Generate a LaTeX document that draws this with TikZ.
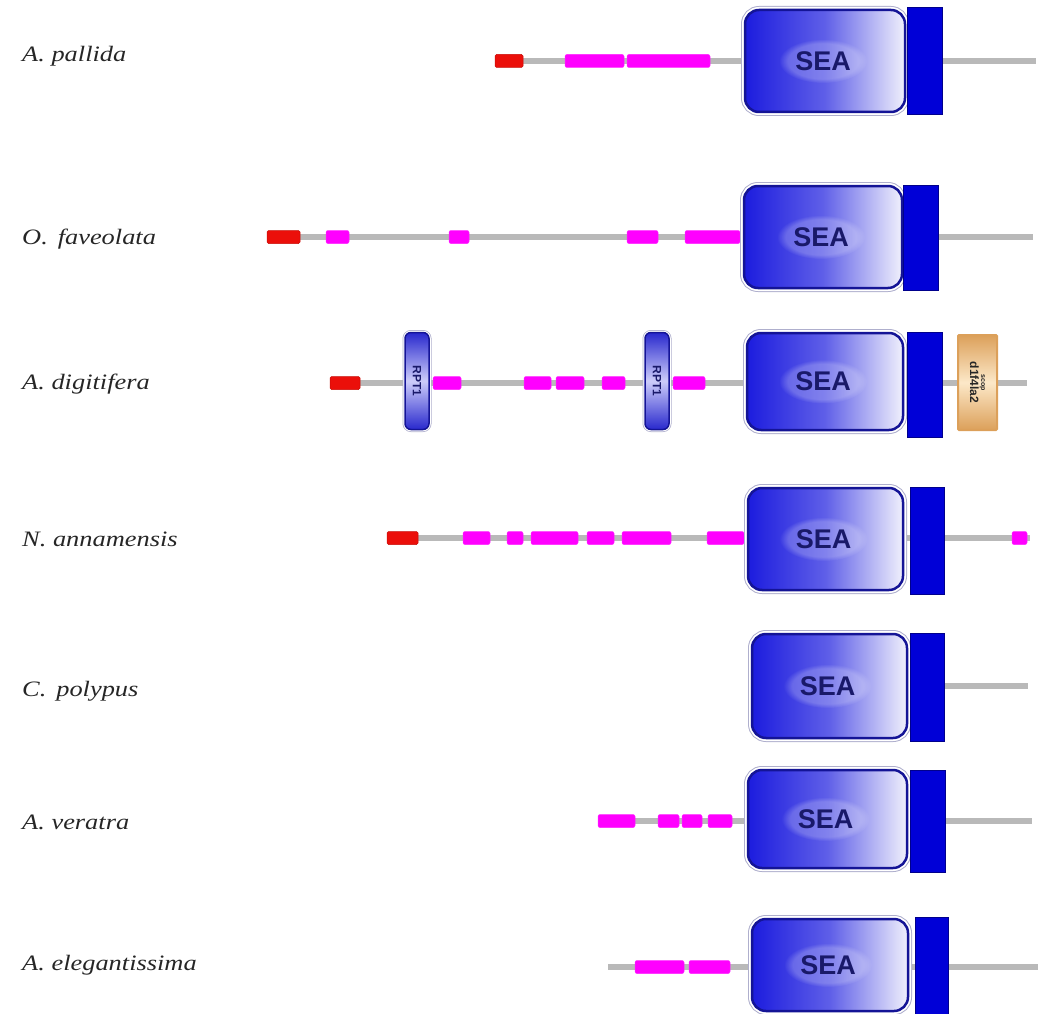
\documentclass[tikz,border=0pt]{standalone}
\usepackage{fontspec}
\setmainfont{Liberation Serif}
\setsansfont{Liberation Sans}
\newfontfamily\labfont[FakeStretch=1.2]{Liberation Serif}
\usetikzlibrary{fadings}
\definecolor{linegray}{RGB}{185,185,185}
\definecolor{domred}{RGB}{235,15,10}
\definecolor{dommag}{RGB}{255,0,255}
\definecolor{seaL}{RGB}{28,28,222}
\definecolor{seaM}{RGB}{95,95,232}
\definecolor{seaR}{RGB}{240,240,252}
\definecolor{seadark}{RGB}{20,20,150}
\definecolor{seaout}{RGB}{175,175,205}
\definecolor{tmblue}{RGB}{0,0,215}
\definecolor{tmdark}{RGB}{0,0,140}
\definecolor{seatext}{RGB}{25,25,105}
\definecolor{rptdark}{RGB}{40,40,205}
\definecolor{rptlight}{RGB}{205,205,250}
\definecolor{scopdark}{RGB}{220,160,90}
\definecolor{scoplight}{RGB}{252,232,200}
\tikzset{
  bb/.style={line width=6pt, draw=linegray},
  redbox/.style={fill=domred, draw=domred!85!black, line width=0.5pt, rounded corners=1.5pt, minimum height=13pt, inner sep=0pt},
  magbox/.style={fill=dommag, draw=dommag!85!white, line width=0.5pt, rounded corners=2pt, minimum height=13pt, inner sep=0pt},
  sea/.style={rounded corners=14pt, inner sep=0pt,
    preaction={draw=seaout, line width=8pt},
    preaction={draw=white, line width=6pt},
    left color=seaL, right color=seaR, middle color=seaM,
    draw=seadark, line width=2.5pt},
  glow/.style={fill=white, opacity=0.22, path fading=circle with fuzzy edge 20 percent},
  seatxt/.style={inner sep=0pt, font=\sffamily\bfseries\fontsize{27}{27}\selectfont, text=seatext},
  tmbox/.style={fill=tmblue, draw=tmdark, line width=1pt, inner sep=0pt},
  rpt/.style={rotate=-90, rounded corners=6pt, inner sep=0pt,
    preaction={draw=seaout, line width=5pt},
    preaction={draw=white, line width=3.5pt},
    top color=rptdark, bottom color=rptdark, middle color=rptlight,
    draw=seadark, line width=1.5pt, minimum width=97pt, minimum height=24pt,
    font=\sffamily\bfseries\fontsize{12}{12}\selectfont, text=seatext},
  scopbox/.style={rotate=-90, inner sep=0pt, rounded corners=1pt,
    top color=scopdark, bottom color=scopdark, middle color=scoplight,
    draw=scopdark, line width=2pt, minimum width=95pt, minimum height=39pt,
    align=center, text=black!85, font=\sffamily\bfseries},
  lab/.style={anchor=base west, inner sep=0pt, font=\labfont\itshape\fontsize{22}{24}\selectfont, text=black!85}
}
% SEA domain: box, soft halo, label
\newcommand\seadom[5]{% name, x, y, width, height
  \node[sea, minimum width=#4pt, minimum height=#5pt] (#1) at (#2,#3) {};
  \fill[glow] (#2-2,#3) ellipse [x radius=44, y radius=22];
  \node[seatxt] (#1t) at (#2-2,#3) {SEA};
}
\begin{document}
\begin{tikzpicture}[x=1pt,y=-1pt]
\useasboundingbox (0,0) rectangle (1039,1014);
% ---------- labels ----------
\node[lab] (t1) at (22,62) {A. pallida};
\node[lab] (t2) at (22,244) {O.\hspace{0.45em}faveolata};
\node[lab] (t3) at (22,389) {A. digitifera};
\node[lab] (t4) at (22,546) {N. annamensis};
\node[lab] (t5) at (22,696) {C.\hspace{0.45em}polypus};
\node[lab] (t6) at (22,829) {A. veratra};
\node[lab] (t7) at (22,970) {A. elegantissima};
% ---------- row 1 ----------
\coordinate (a1) at (495,61); \coordinate (b1) at (1036,61);
\draw[bb] (a1) -- (b1);
\node[redbox, minimum width=28pt] (r1a) at (509,61) {};
\node[magbox, minimum width=59pt] (m1a) at (594.5,61) {};
\node[magbox, minimum width=83pt] (m1b) at (668.5,61) {};
\seadom{sea1}{825}{61}{160}{102}
\node[tmbox, minimum width=35pt, minimum height=107pt] (tm1) at (924.5,61.5) {};
% ---------- row 2 ----------
\coordinate (a2) at (267,237); \coordinate (b2) at (1033,237);
\draw[bb] (a2) -- (b2);
\node[redbox, minimum width=33pt] (r2a) at (283.5,237) {};
\node[magbox, minimum width=23pt] (m2a) at (337.5,237) {};
\node[magbox, minimum width=20pt] (m2b) at (459,237) {};
\node[magbox, minimum width=31pt] (m2c) at (642.5,237) {};
\node[magbox, minimum width=55pt] (m2d) at (712.5,237) {};
\seadom{sea2}{823}{237}{158}{102}
\node[tmbox, minimum width=35pt, minimum height=105pt] (tm2) at (920.5,237.5) {};
% ---------- row 3 ----------
\coordinate (a3) at (330,383); \coordinate (b3) at (1027,383);
\draw[bb] (a3) -- (b3);
\node[redbox, minimum width=30pt] (r3a) at (345,383) {};
\node[rpt] (p3a) at (417,381) {RPT1};
\node[magbox, minimum width=28pt] (m3a) at (447,383) {};
\node[magbox, minimum width=27pt] (m3b) at (537.5,383) {};
\node[magbox, minimum width=28pt] (m3c) at (570,383) {};
\node[magbox, minimum width=23pt] (m3d) at (613.5,383) {};
\node[rpt] (p3b) at (657,381) {RPT1};
\node[magbox, minimum width=32pt] (m3e) at (689,383) {};
\seadom{sea3}{825}{381.5}{156}{97}
\node[tmbox, minimum width=35pt, minimum height=105pt] (tm3) at (924.5,384.5) {};
\node[scopbox] (sc3) at (977.5,382.5) {{\fontsize{7}{8}\selectfont scop}\\[-1pt]{\fontsize{12}{13}\selectfont d1f4la2}};
% ---------- row 4 ----------
\coordinate (a4) at (387,538); \coordinate (b4) at (1030,538);
\draw[bb] (a4) -- (b4);
\node[redbox, minimum width=31pt] (r4a) at (402.5,538) {};
\node[magbox, minimum width=27pt] (m4a) at (476.5,538) {};
\node[magbox, minimum width=16pt] (m4b) at (515,538) {};
\node[magbox, minimum width=47pt] (m4c) at (554.5,538) {};
\node[magbox, minimum width=27pt] (m4d) at (600.5,538) {};
\node[magbox, minimum width=49pt] (m4e) at (646.5,538) {};
\node[magbox, minimum width=37pt] (m4f) at (725.5,538) {};
\seadom{sea4}{825.5}{539}{155}{102}
\node[tmbox, minimum width=34pt, minimum height=107pt] (tm4) at (927,540.5) {};
\node[magbox, minimum width=15pt] (m4g) at (1019.5,538) {};
% ---------- row 5 ----------
\coordinate (a5) at (907,686); \coordinate (b5) at (1028,686);
\draw[bb] (a5) -- (b5);
\seadom{sea5}{829.5}{686}{155}{104}
\node[tmbox, minimum width=34pt, minimum height=108pt] (tm5) at (927,687) {};
% ---------- row 6 ----------
\coordinate (a6) at (598,821); \coordinate (b6) at (1032,821);
\draw[bb] (a6) -- (b6);
\node[magbox, minimum width=37pt] (m6a) at (616.5,821) {};
\node[magbox, minimum width=21pt] (m6b) at (668.5,821) {};
\node[magbox, minimum width=20pt] (m6c) at (692,821) {};
\node[magbox, minimum width=24pt] (m6d) at (720,821) {};
\seadom{sea6}{827.5}{819}{159}{98}
\node[tmbox, minimum width=35pt, minimum height=102pt] (tm6) at (927.5,821) {};
% ---------- row 7 ----------
\coordinate (a7) at (608,967); \coordinate (b7) at (1038,967);
\draw[bb] (a7) -- (b7);
\node[magbox, minimum width=49pt] (m7a) at (659.5,967) {};
\node[magbox, minimum width=41pt] (m7b) at (709.5,967) {};
\seadom{sea7}{830}{965}{156}{92}
\node[tmbox, minimum width=33pt, minimum height=97pt] (tm7) at (931.5,965.5) {};
\end{tikzpicture}
\end{document}
